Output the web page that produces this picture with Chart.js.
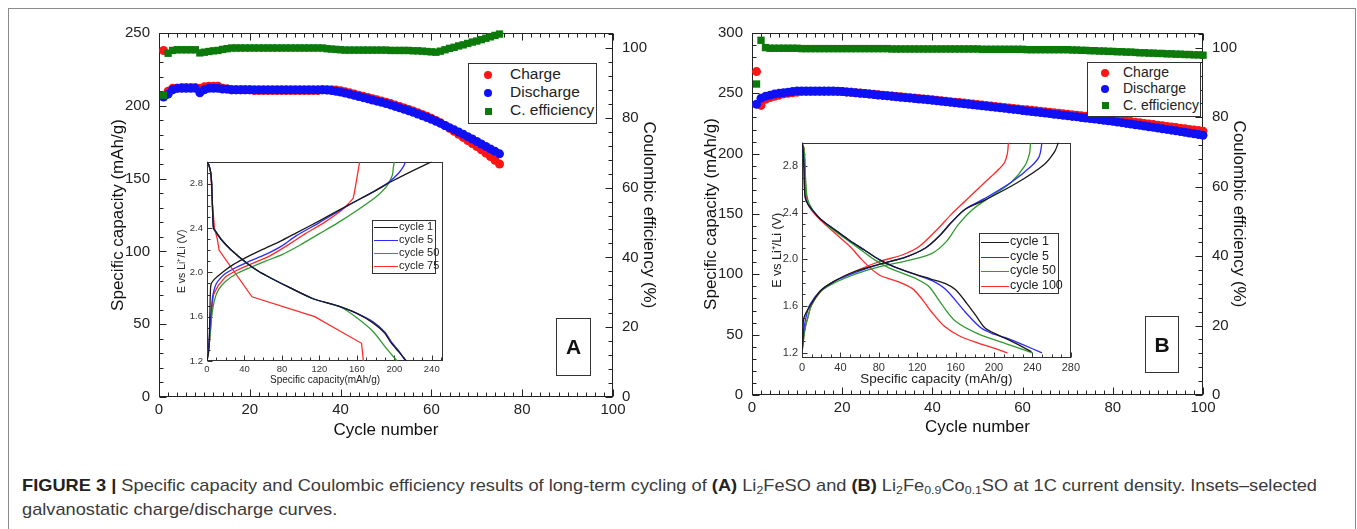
<!DOCTYPE html>
<html>
<head>
<meta charset="utf-8">
<script src="https://cdn.jsdelivr.net/npm/chart.js@4.4.0/dist/chart.umd.min.js"></script>
<style>
	body { margin: 0; background: #fff; font-family: "Liberation Sans", Arial, sans-serif; }
	#page { position: relative; width: 1357px; height: 529px; overflow: hidden; }
	#frame { position: absolute; left: 8px; top: 8px; width: 1346px; height: 580px; border: 1px solid #8a8a8a; }
	canvas { position: absolute; }
	.box { position: absolute; border: 1px solid #333; background: #fff; box-sizing: border-box; }
	.row { position: absolute; white-space: nowrap; color: #222; }
	.dot { position: absolute; width: 8px; height: 8px; border-radius: 50%; }
	.sq { position: absolute; width: 7px; height: 7px; }
	.ln { position: absolute; height: 0; border-top-width: 1.3px; border-top-style: solid; }
	.tag { position: absolute; border: 1px solid #333; font-weight: bold; font-size: 21px; color: #111;
		display: flex; align-items: center; justify-content: center; box-sizing: border-box; }
	#cap { position: absolute; left: 22px; top: 474px; font-family: "Liberation Sans Narrow", "Arial Narrow", "Liberation Sans", sans-serif;
		font-size: 17px; line-height: 24px; color: #3a3a3a; white-space: nowrap; transform-origin: 0 0; }
	#cap b { color: #222; }
	#cap sub { font-size: 11.5px; vertical-align: -3px; line-height: 0; }
</style>
</head>
<body>
<div id="page">
	<div id="frame"></div>
	<canvas id="mainA" width="559" height="445" style="left:104px;top:0px"></canvas>
	<canvas id="mainB" width="556" height="442" style="left:697px;top:0px"></canvas>
	<canvas id="insetA" width="269" height="234" style="left:176px;top:152px"></canvas>
	<canvas id="insetB" width="313" height="255" style="left:770px;top:132px"></canvas>

	<div class="box" style="left:468px;top:63px;width:129px;height:61px;font-size:15.5px">
		<div class="dot" style="left:15px;top:7px;background:#ff1414"></div><div class="row" style="left:41px;top:1px">Charge</div>
		<div class="dot" style="left:15px;top:25px;background:#1010f5"></div><div class="row" style="left:41px;top:19px">Discharge</div>
		<div class="sq" style="left:16px;top:44px;background:#0b7a0b"></div><div class="row" style="left:41px;top:37px">C. efficiency</div>
	</div>
	<div class="box" style="left:1087px;top:62px;width:114px;height:55px;font-size:14px">
		<div class="dot" style="left:13px;top:6px;background:#ff1414"></div><div class="row" style="left:35px;top:1px">Charge</div>
		<div class="dot" style="left:13px;top:22px;background:#1010f5"></div><div class="row" style="left:35px;top:17px">Discharge</div>
		<div class="sq" style="left:14px;top:39px;background:#0b7a0b"></div><div class="row" style="left:35px;top:34px">C. efficiency</div>
	</div>

	<div class="box" style="left:372px;top:220px;width:64px;height:54px;font-size:11px">
		<div class="ln" style="left:1px;top:6px;width:24px;border-top-color:#1a1a1a"></div><div class="row" style="left:26px;top:-1px">cycle 1</div>
		<div class="ln" style="left:1px;top:19px;width:24px;border-top-color:#2b2bff"></div><div class="row" style="left:26px;top:12px">cycle 5</div>
		<div class="ln" style="left:1px;top:32px;width:24px;border-top-color:#2f9a2f"></div><div class="row" style="left:26px;top:25px">cycle 50</div>
		<div class="ln" style="left:1px;top:45px;width:24px;border-top-color:#ff2a2a"></div><div class="row" style="left:26px;top:38px">cycle 75</div>
	</div>
	<div class="box" style="left:979px;top:233px;width:80px;height:61px;font-size:12.5px">
		<div class="ln" style="left:1px;top:8px;width:28px;border-top-color:#1a1a1a"></div><div class="row" style="left:30px;top:0px">cycle 1</div>
		<div class="ln" style="left:1px;top:23px;width:28px;border-top-color:#2b2bff"></div><div class="row" style="left:30px;top:15px">cycle 5</div>
		<div class="ln" style="left:1px;top:37px;width:28px;border-top-color:#2f9a2f"></div><div class="row" style="left:30px;top:29px">cycle 50</div>
		<div class="ln" style="left:1px;top:52px;width:28px;border-top-color:#ff2a2a"></div><div class="row" style="left:30px;top:44px">cycle 100</div>
	</div>

	<div class="tag" style="left:556px;top:318px;width:35px;height:58px">A</div>
	<div class="tag" style="left:1145px;top:316px;width:34px;height:57px">B</div>

	<div id="cap">
		<div id="cap1"><b>FIGURE 3 |</b> Specific capacity and Coulombic efficiency results of long-term cycling of <b>(A)</b> Li<sub>2</sub>FeSO and <b>(B)</b> Li<sub>2</sub>Fe<sub>0.9</sub>Co<sub>0.1</sub>SO at 1C current density. Insets–selected</div>
		<div>galvanostatic charge/discharge curves.</div>
	</div>
</div>

<script>
// ---- panel A : Li2FeSO, 75 cycles ----
const cyclesA = [1, 2, 3, 4, 5, 6, 7, 8, 9, 10, 11, 12, 13, 14, 15, 16, 17, 18, 19, 20,
	21, 22, 23, 24, 25, 26, 27, 28, 29, 30, 31, 32, 33, 34, 35, 36, 37, 38, 39, 40,
	41, 42, 43, 44, 45, 46, 47, 48, 49, 50, 51, 52, 53, 54, 55, 56, 57, 58, 59, 60,
	61, 62, 63, 64, 65, 66, 67, 68, 69, 70, 71, 72, 73, 74, 75];
const chargeA = [238, 210, 212, 212, 212.5, 212.5, 212.5, 212.5, 212, 213,
	213.5, 213.5, 213.5, 212, 211.5, 211, 211, 211, 211, 211,
	210.5, 210.5, 210.5, 210.5, 210.5, 210.5, 210.5, 210.5, 210.5, 210.5,
	210.5, 210.5, 210.5, 210.5, 210.5, 211, 211, 211, 210.8, 210.3,
	209.6, 208.9, 208.1, 207.3, 206.5, 205.7, 204.9, 204.1, 203.3, 202.4,
	201.5, 200.5, 199.5, 198.5, 197.5, 196.4, 195.3, 194.1, 192.8, 191.4,
	189.9, 188.3, 186.5, 184.5, 182.5, 180.4, 178.3, 176.2, 174.1, 172,
	169.8, 167.5, 165.1, 162.6, 160];
const dischargeA = [206, 208, 211, 212, 212, 212, 212, 212, 209, 211,
	212, 212, 212, 211.5, 211.5, 211, 211, 211, 211, 211,
	211, 211, 211, 211, 211, 211, 211, 211, 211, 211,
	211, 211, 211, 211, 211, 211, 210.8, 210.5, 210, 209.5,
	208.8, 208, 207.2, 206.4, 205.6, 204.8, 204, 203.2, 202.4, 201.5,
	200.6, 199.6, 198.6, 197.6, 196.6, 195.5, 194.4, 193.2, 192, 190.7,
	189.4, 188, 186.5, 185, 183.5, 182, 180.5, 178.8, 177.2, 175.5,
	173.8, 172.1, 170.4, 168.7, 167];
const effA = [86.5, 98.5, 99.3, 99.5, 99.5, 99.5, 99.5, 99.5, 98.6, 98.8,
	99.0, 99.2, 99.3, 99.6, 99.8, 100, 100, 100, 100, 100,
	100, 100, 100, 100, 100, 100, 100, 100, 100, 100,
	100, 100, 100, 100, 100, 100, 99.8, 99.7, 99.6, 99.5,
	99.4, 99.4, 99.4, 99.4, 99.4, 99.4, 99.4, 99.4, 99.4, 99.4,
	99.3, 99.3, 99.3, 99.3, 99.3, 99.2, 99.2, 99.1, 99.0, 98.9,
	98.8, 99.1, 99.5, 99.9, 100.2, 100.6, 100.9, 101.3, 101.7, 102.0,
	102.4, 102.8, 103.2, 103.6, 104.0];

// ---- panel B : Li2Fe0.9Co0.1SO, 100 cycles ----
const cyclesB = [1, 2, 3, 4, 5, 6, 7, 8, 9, 10, 11, 12, 13, 14, 15, 16, 17, 18, 19, 20,
	21, 22, 23, 24, 25, 26, 27, 28, 29, 30, 31, 32, 33, 34, 35, 36, 37, 38, 39, 40,
	41, 42, 43, 44, 45, 46, 47, 48, 49, 50, 51, 52, 53, 54, 55, 56, 57, 58, 59, 60,
	61, 62, 63, 64, 65, 66, 67, 68, 69, 70, 71, 72, 73, 74, 75, 76, 77, 78, 79, 80,
	81, 82, 83, 84, 85, 86, 87, 88, 89, 90, 91, 92, 93, 94, 95, 96, 97, 98, 99, 100];
const chargeB = [268, 240, 245, 246.5, 247.5, 248.5, 249.5, 250, 250.5, 251,
	251.5, 251.5, 251.5, 251.5, 251.5, 251.5, 251.5, 251.5, 251.5, 251.5,
	251.2, 250.9, 250.5, 250.2, 249.9, 249.5, 249.2, 248.8, 248.5, 248.1,
	247.8, 247.4, 247.1, 246.8, 246.4, 246.1, 245.7, 245.4, 245.0, 244.7,
	244.3, 243.9, 243.5, 243.1, 242.7, 242.3, 241.9, 241.5, 241.1, 240.7,
	240.3, 239.9, 239.5, 239.1, 238.7, 238.3, 237.9, 237.5, 237.1, 236.7,
	236.3, 235.9, 235.5, 235.1, 234.7, 234.3, 233.9, 233.5, 233.1, 232.7,
	232.3, 231.9, 231.5, 231.0, 230.6, 230.2, 229.8, 229.4, 229.0, 228.6,
	228.1, 227.6, 227.1, 226.6, 226.1, 225.6, 225.1, 224.6, 224.1, 223.6,
	223.1, 222.6, 222.1, 221.6, 221.1, 220.6, 220.1, 219.6, 219.1, 218.6];
const dischargeB = [241, 246, 247.5, 248.5, 249.5, 250, 250.5, 251, 251.5, 252,
	252, 252, 252, 252, 252, 252, 252, 252, 251.8, 251.5,
	251.1, 250.8, 250.4, 250.1, 249.8, 249.4, 249.0, 248.6, 248.3, 247.9,
	247.5, 247.2, 246.8, 246.4, 246.1, 245.7, 245.3, 245.0, 244.6, 244.2,
	243.8, 243.4, 243.0, 242.6, 242.2, 241.8, 241.4, 241.0, 240.5, 240.1,
	239.7, 239.3, 238.8, 238.4, 238.0, 237.6, 237.1, 236.7, 236.3, 235.8,
	235.4, 234.9, 234.5, 234.1, 233.6, 233.2, 232.7, 232.3, 231.8, 231.4,
	230.9, 230.5, 230.0, 229.6, 229.1, 228.7, 228.2, 227.7, 227.2, 226.8,
	226.2, 225.7, 225.1, 224.6, 224.0, 223.5, 222.9, 222.3, 221.8, 221.2,
	220.6, 220.1, 219.5, 218.9, 218.3, 217.7, 217.1, 216.5, 215.9, 215.3];
const effB = [89.6, 102.2, 100.1, 99.9, 99.9, 99.9, 99.9, 99.9, 99.9, 99.9,
	99.8, 99.8, 99.8, 99.8, 99.8, 99.8, 99.8, 99.8, 99.8, 99.8,
	99.8, 99.8, 99.8, 99.8, 99.8, 99.8, 99.8, 99.8, 99.8, 99.8,
	99.7, 99.7, 99.7, 99.7, 99.7, 99.7, 99.7, 99.7, 99.7, 99.7,
	99.7, 99.7, 99.7, 99.7, 99.7, 99.7, 99.7, 99.7, 99.7, 99.7,
	99.6, 99.6, 99.6, 99.6, 99.6, 99.6, 99.6, 99.6, 99.6, 99.6,
	99.5, 99.5, 99.5, 99.5, 99.5, 99.5, 99.5, 99.5, 99.5, 99.5,
	99.4, 99.4, 99.3, 99.3, 99.2, 99.2, 99.1, 99.1, 99.0, 99.0,
	98.9, 98.9, 98.8, 98.8, 98.7, 98.6, 98.6, 98.5, 98.5, 98.4,
	98.4, 98.3, 98.3, 98.2, 98.2, 98.1, 98.1, 98.0, 98.0, 97.9];

// ---- inset A : voltage profiles [capacity mAh/g, E V] ----
const a1Chg = [[0, 1.2], [2, 1.3], [3, 1.6], [4, 1.88], [7, 1.93], [18, 2.01], [28, 2.07], [43, 2.14], [60, 2.21], [78, 2.28], [96, 2.36], [121, 2.47], [149, 2.6], [178, 2.73], [199, 2.83], [220, 2.92], [240, 3.0]];
const a5Chg = [[0, 1.2], [2, 1.35], [4, 1.6], [6, 1.78], [10, 1.9], [18, 1.98], [30, 2.04], [45, 2.1], [62, 2.16], [80, 2.24], [95, 2.33], [120, 2.45], [150, 2.6], [178, 2.73], [195, 2.82], [205, 2.9], [210, 2.96], [212, 3.0]];
const a50Chg = [[0, 1.2], [3, 1.4], [5, 1.6], [8, 1.75], [12, 1.84], [20, 1.92], [32, 1.99], [45, 2.04], [62, 2.1], [80, 2.16], [100, 2.25], [120, 2.35], [140, 2.45], [160, 2.56], [180, 2.68], [192, 2.78], [198, 2.88], [199, 2.95], [200, 3.0]];
const a75Chg = [[0, 1.2], [3, 1.4], [5, 1.65], [7, 1.8], [12, 1.88], [20, 1.96], [32, 2.02], [48, 2.08], [65, 2.14], [85, 2.24], [105, 2.35], [125, 2.45], [145, 2.57], [156, 2.67], [159, 2.8], [161, 2.9], [163, 3.0]];
const a1Dis = [[0, 3.0], [2, 2.97], [4, 2.9], [5, 2.8], [6, 2.55], [7, 2.4], [10, 2.36], [15, 2.3], [25, 2.21], [43, 2.08], [55, 2.01], [68, 1.95], [89, 1.86], [114, 1.76], [139, 1.7], [160, 1.63], [178, 1.54], [190, 1.45], [196, 1.37], [205, 1.28], [213, 1.2]];
const a5Dis = [[0, 3.0], [2, 2.97], [4, 2.9], [5, 2.8], [6, 2.55], [7, 2.4], [10, 2.36], [15, 2.3], [25, 2.21], [43, 2.08], [55, 2.01], [68, 1.95], [89, 1.86], [114, 1.76], [139, 1.7], [160, 1.63], [178, 1.55], [190, 1.46], [197, 1.37], [205, 1.29], [212, 1.2]];
const a50Dis = [[0, 3.0], [2, 2.97], [4, 2.9], [5, 2.8], [6, 2.55], [7, 2.4], [10, 2.36], [15, 2.3], [25, 2.21], [43, 2.08], [55, 2.01], [68, 1.95], [89, 1.86], [114, 1.76], [142, 1.69], [160, 1.59], [178, 1.46], [192, 1.31], [203, 1.2]];
const a75Dis = [[0, 3.0], [2, 2.97], [4, 2.9], [6, 2.6], [8, 2.4], [11, 2.3], [13, 2.2], [48, 1.78], [115, 1.6], [140, 1.48], [165, 1.36], [167, 1.2]];

// ---- inset B ----
const b1Chg = [[0, 1.2], [1, 1.35], [2, 1.5], [9, 1.61], [19, 1.73], [33, 1.81], [53, 1.89], [81, 1.96], [108, 2.02], [129, 2.1], [143, 2.2], [156, 2.32], [170, 2.43], [191, 2.51], [225, 2.66], [252, 2.81], [263, 2.92], [267, 3.0]];
const b5Chg = [[0, 1.2], [2, 1.4], [4, 1.5], [8, 1.61], [19, 1.73], [33, 1.81], [53, 1.88], [81, 1.96], [108, 2.02], [129, 2.1], [143, 2.2], [156, 2.32], [170, 2.43], [190, 2.52], [218, 2.66], [239, 2.8], [247, 2.88], [250, 3.0]];
const b50Chg = [[0, 1.2], [3, 1.4], [6, 1.5], [10, 1.61], [20, 1.73], [34, 1.8], [54, 1.87], [82, 1.94], [110, 1.99], [135, 2.05], [150, 2.15], [163, 2.3], [178, 2.43], [197, 2.54], [218, 2.66], [232, 2.8], [237, 2.91], [238, 3.0]];
const b100Chg = [[0, 1.2], [3, 1.4], [6, 1.5], [10, 1.61], [20, 1.73], [33, 1.81], [53, 1.89], [80, 1.98], [105, 2.04], [122, 2.11], [140, 2.25], [156, 2.39], [170, 2.5], [184, 2.61], [197, 2.71], [206, 2.78], [211, 2.83], [214, 2.91], [215, 3.0]];
const b1Dis = [[0, 3.0], [1, 2.95], [2, 2.8], [3, 2.55], [5, 2.49], [10, 2.43], [20, 2.34], [35, 2.25], [50, 2.16], [65, 2.08], [80, 2.0], [95, 1.94], [115, 1.88], [135, 1.83], [150, 1.79], [160, 1.74], [172, 1.62], [181, 1.52], [191, 1.41], [205, 1.35], [218, 1.3], [239, 1.21]];
const b5Dis = [[0, 3.0], [1, 2.95], [2, 2.8], [3, 2.55], [5, 2.49], [10, 2.43], [20, 2.34], [35, 2.25], [50, 2.16], [65, 2.08], [80, 2.0], [95, 1.94], [115, 1.88], [135, 1.82], [150, 1.74], [170, 1.55], [187, 1.41], [200, 1.36], [212, 1.33], [230, 1.27], [250, 1.2]];
const b50Dis = [[0, 3.0], [2, 2.95], [3, 2.8], [5, 2.55], [8, 2.47], [15, 2.38], [30, 2.27], [45, 2.18], [60, 2.09], [75, 2.0], [90, 1.93], [105, 1.88], [120, 1.83], [132, 1.77], [146, 1.61], [160, 1.47], [184, 1.36], [212, 1.28], [240, 1.2]];
const b100Dis = [[0, 3.0], [2, 2.95], [3, 2.85], [4, 2.6], [6, 2.48], [10, 2.42], [20, 2.33], [35, 2.22], [50, 2.11], [62, 2.0], [72, 1.92], [82, 1.86], [100, 1.81], [115, 1.75], [125, 1.66], [135, 1.55], [148, 1.43], [165, 1.34], [185, 1.28], [200, 1.24], [214, 1.2]];

// tick labels
const cycleTicks = [0, 20, 40, 60, 80, 100];
const capTicksA = [0, 50, 100, 150, 200, 250];
const capTicksB = [0, 50, 100, 150, 200, 250, 300];
const effTicks = [0, 20, 40, 60, 80, 100];
const voltTicks = [1.2, 1.6, 2.0, 2.4, 2.8];
const insetCapTicksA = [0, 40, 80, 120, 160, 200, 240];
const insetCapTicksB = [0, 40, 80, 120, 160, 200, 240, 280];

const RED = '#ff1414', BLUE = '#1010f5', GREEN = '#0b7a0b';
const LINE = { c1: '#1a1a1a', c5: '#2b2bff', c50: '#2f9a2f', cLast: '#ff2a2a' };
const FONT = "'Liberation Sans', Arial, sans-serif";
const NOGRID = { display: false, drawTicks: false };

// frame + inward minor/major ticks like an Origin plot
const frameTicks = {
	id: 'frameTicks',
	beforeDatasetsDraw(chart, args, opts) {
		const ctx = chart.ctx, a = chart.chartArea;
		ctx.save();
		if (opts.fill) {
			ctx.fillStyle = opts.fill;
			ctx.fillRect(a.left, a.top, a.right - a.left, a.bottom - a.top);
		}
		ctx.strokeStyle = opts.color || '#222';
		ctx.lineWidth = 1;
		const l = Math.round(a.left) + 0.5, t = Math.round(a.top) + 0.5;
		const r = Math.round(a.right) - 0.5, b = Math.round(a.bottom) - 0.5;
		ctx.strokeRect(l, t, r - l, b - t);
		(opts.sides || []).forEach(function(s) {
			const sc = chart.scales[s.scale];
			const n0 = Math.ceil(sc.min / s.minor - 1e-6), n1 = Math.floor(sc.max / s.minor + 1e-6);
			for (let n = n0; n <= n1; n++) {
				const v = n * s.minor, q = v / s.major;
				const len = Math.abs(q - Math.round(q)) < 1e-6 ? opts.majorLen : opts.minorLen;
				const p = Math.round(sc.getPixelForValue(v)) + 0.5;
				ctx.beginPath();
				if (s.edge == 'left') { ctx.moveTo(l, p); ctx.lineTo(l + len, p); }
				if (s.edge == 'right') { ctx.moveTo(r, p); ctx.lineTo(r - len, p); }
				if (s.edge == 'bottom') { ctx.moveTo(p, b); ctx.lineTo(p, b - len); }
				if (s.edge == 'top') { ctx.moveTo(p, t); ctx.lineTo(p, t + len); }
				ctx.stroke();
			}
		});
		ctx.restore();
	}
};

function xy(xs, ys) {
	return xs.map(function(x, i) { return { x: x, y: ys[i] }; });
}
function pts(arr) {
	return arr.map(function(p) { return { x: p[0], y: p[1] }; });
}
function fixTicks(list) {
	return function(scale) { scale.ticks = list.map(function(v) { return { value: v }; }); };
}

function mainChart(id, cycles, chg, dis, eff, capTicks, capMax, size) {
	const tickFont = { family: FONT, size: 15 };
	const titleFont = { family: FONT, size: 17 };
	return new Chart(document.getElementById(id), {
		type: 'scatter',
		data: {
			datasets: [
				{ label: 'Charge', data: xy(cycles, chg), yAxisID: 'y', backgroundColor: RED, borderWidth: 0, pointRadius: 4.5, clip: false, order: 3 },
				{ label: 'Discharge', data: xy(cycles, dis), yAxisID: 'y', backgroundColor: BLUE, borderWidth: 0, pointRadius: 4.5, clip: false, order: 2 },
				{ label: 'C. efficiency', data: xy(cycles, eff), yAxisID: 'y1', backgroundColor: GREEN, borderWidth: 0, pointStyle: 'rect', pointRadius: 5.2, clip: false, order: 1 }
			]
		},
		options: {
			responsive: false,
			animation: false,
			layout: { padding: { top: 33, left: 0, right: 0, bottom: 0 } },
			plugins: {
				legend: { display: false },
				tooltip: { enabled: false },
				frameTicks: {
					majorLen: 7, minorLen: 4, color: '#222',
					sides: [
						{ scale: 'y', edge: 'left', major: 50, minor: 10 },
						{ scale: 'y1', edge: 'right', major: 20, minor: 4 },
						{ scale: 'x', edge: 'bottom', major: 20, minor: 2 },
						{ scale: 'x', edge: 'top', major: 20, minor: 2 }
					]
				}
			},
			scales: {
				x: {
					type: 'linear', min: 0, max: 100,
					afterFit: function(s) { s.height = size.xh; },
					afterBuildTicks: fixTicks(cycleTicks),
					grid: NOGRID, border: { display: false },
					ticks: { font: tickFont, color: '#222', padding: 4, autoSkip: false, maxRotation: 0 },
					title: { display: true, text: 'Cycle number', font: titleFont, color: '#111', padding: { top: 0, bottom: 4 } }
				},
				y: {
					position: 'left', min: 0, max: capMax,
					afterFit: function(s) { s.width = size.yl; },
					afterBuildTicks: fixTicks(capTicks),
					grid: NOGRID, border: { display: false },
					ticks: { font: tickFont, color: '#222', padding: 9, autoSkip: false },
					title: { display: true, text: 'Specific capacity (mAh/g)', font: titleFont, color: '#111', padding: { top: 4, bottom: 0 } }
				},
				y1: {
					position: 'right', min: 0, max: 104.3,
					afterFit: function(s) { s.width = size.yr; },
					afterBuildTicks: fixTicks(effTicks),
					grid: NOGRID, border: { display: false },
					ticks: { font: tickFont, color: '#222', padding: 9, autoSkip: false },
					title: { display: true, text: 'Coulombic efficiency (%)', font: titleFont, color: '#111', padding: { top: 4, bottom: 0 } }
				}
			}
		},
		plugins: [frameTicks]
	});
}

function curve(label, arr, color, tension) {
	return { label: label, data: pts(arr), showLine: true, borderColor: color, borderWidth: 1.3,
		pointRadius: 0, tension: tension, fill: false };
}

function insetChart(id, sets, xMax, yMin, xTicks, xTitle, size) {
	return new Chart(document.getElementById(id), {
		type: 'scatter',
		data: { datasets: sets },
		options: {
			responsive: false,
			animation: false,
			layout: { padding: { top: 2, right: size.pr, left: 0, bottom: 0 } },
			plugins: {
				legend: { display: false },
				tooltip: { enabled: false },
				frameTicks: {
					fill: '#fff', majorLen: 5, minorLen: 3, color: '#333',
					sides: [
						{ scale: 'y', edge: 'left', major: 0.4, minor: 0.1 },
						{ scale: 'x', edge: 'bottom', major: 40, minor: 10 }
					]
				}
			},
			scales: {
				x: {
					type: 'linear', min: 0, max: xMax,
					afterFit: function(s) { s.height = size.xh; },
					afterBuildTicks: fixTicks(xTicks),
					grid: NOGRID, border: { display: false },
					ticks: { font: { family: FONT, size: size.tick }, color: '#333', padding: 3, autoSkip: false, maxRotation: 0 },
					title: { display: true, text: xTitle, font: { family: FONT, size: size.xt }, color: '#222', padding: { top: 0, bottom: 0 } }
				},
				y: {
					min: yMin, max: 3.0,
					afterFit: function(s) { s.width = size.yw; },
					afterBuildTicks: fixTicks(voltTicks),
					grid: NOGRID, border: { display: false },
					ticks: { font: { family: FONT, size: size.tick }, color: '#333', padding: 4, autoSkip: false,
						callback: function(v) { return Number(v).toFixed(1); } },
					title: { display: true, text: 'E vs Li⁺/Li (V)', font: { family: FONT, size: size.yt }, color: '#222', padding: { top: 0, bottom: 0 } }
				}
			}
		},
		plugins: [frameTicks]
	});
}

mainChart('mainA', cyclesA, chargeA, dischargeA, effA, capTicksA, 250, { xh: 48, yl: 55, yr: 50 });
mainChart('mainB', cyclesB, chargeB, dischargeB, effB, capTicksB, 300, { xh: 47, yl: 55, yr: 50 });

insetChart('insetA', [
	curve('cycle 1', a1Chg, LINE.c1, 0.2), curve('cycle 1', a1Dis, LINE.c1, 0.2),
	curve('cycle 5', a5Chg, LINE.c5, 0.2), curve('cycle 5', a5Dis, LINE.c5, 0.2),
	curve('cycle 50', a50Chg, LINE.c50, 0.2), curve('cycle 50', a50Dis, LINE.c50, 0.2),
	curve('cycle 75', a75Chg, LINE.cLast, 0.1), curve('cycle 75', a75Dis, LINE.cLast, 0)
], 252, 1.2, insetCapTicksA, 'Specific capacity(mAh/g)', { pr: 2, xh: 25, yw: 31, tick: 9.5, xt: 10, yt: 10.5 });

insetChart('insetB', [
	curve('cycle 1', b1Chg, LINE.c1, 0.3), curve('cycle 1', b1Dis, LINE.c1, 0.3),
	curve('cycle 5', b5Chg, LINE.c5, 0.3), curve('cycle 5', b5Dis, LINE.c5, 0.3),
	curve('cycle 50', b50Chg, LINE.c50, 0.3), curve('cycle 50', b50Dis, LINE.c50, 0.3),
	curve('cycle 100', b100Chg, LINE.cLast, 0.3), curve('cycle 100', b100Dis, LINE.cLast, 0.3)
], 280, 1.156, insetCapTicksB, 'Specific capacity (mAh/g)', { pr: 10, xh: 29, yw: 32, tick: 11, xt: 13.5, yt: 12.5 });

// stretch the caption so the first line spans the same width as the original figure
const cap = document.getElementById('cap');
const w = document.getElementById('cap1').getBoundingClientRect().width;
cap.style.transform = 'scaleX(' + (1295 / w) + ')';
</script>
</body>
</html>
